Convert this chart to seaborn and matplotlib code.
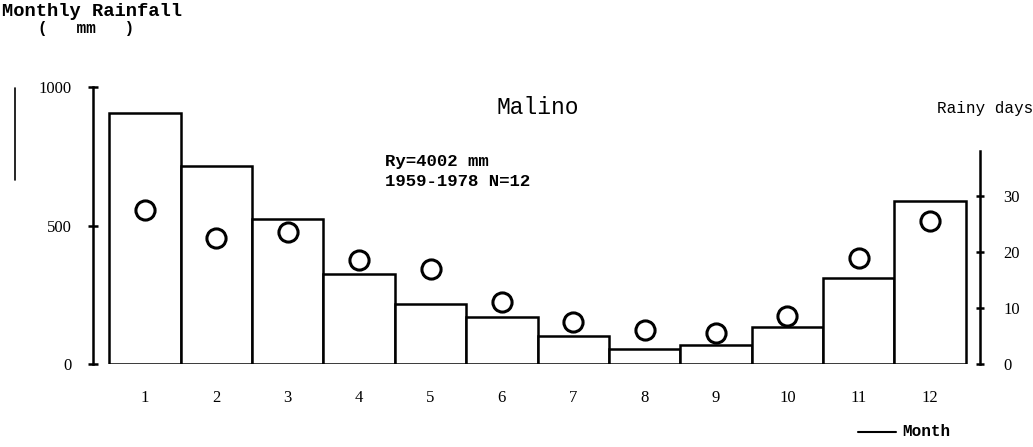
import numpy as np
import pandas as pd
import matplotlib
matplotlib.use("Agg")
import matplotlib.pyplot as plt
from matplotlib.lines import Line2D
import seaborn as sns

# ---- data ----
months = ["1", "2", "3", "4", "5", "6", "7", "8", "9", "10", "11", "12"]
rainfall_mm = [905, 715, 525, 325, 215, 170, 100, 55, 70, 135, 310, 590]
rainy_days = [27.5, 22.5, 23.5, 18.5, 17, 11, 7.5, 6, 5.5, 8.5, 19, 25.5]
left_ticks = [0, 500, 1000]
left_ticklabels = ["0", "500", "1000"]
right_ticks = [0, 10, 20, 30]
right_ticklabels = ["0", "10", "20", "30"]

W, H = 1033, 447
sns.set_theme(style="white")
plt.rcParams["font.family"] = ["Liberation Serif", "DejaVu Serif"]

fig = plt.figure(figsize=(W / 100, H / 100), dpi=100)
fig.patch.set_facecolor("white")

def fx(x):
    return x / W

def fy(y):
    return 1 - y / H

base_y = 364
ax_left, ax_right = 93, 980
top_y = base_y - 277  # 1000 mm
ax = fig.add_axes([fx(ax_left), fy(base_y), (ax_right - ax_left) / W, (base_y - top_y) / H])
ax.set_facecolor("none")

df = pd.DataFrame({"month": months, "rain": rainfall_mm, "days": rainy_days})
sns.barplot(data=df, x="month", y="rain", ax=ax, color="white", edgecolor="black",
            linewidth=1.8, width=1.0, saturation=1)

xl = (-0.73, 11.7)
ax.set_xlim(*xl)
ax.set_ylim(0, 1000)
for s in ["top", "right", "bottom"]:
    ax.spines[s].set_visible(False)
ax.spines["left"].set_color("black")
ax.spines["left"].set_linewidth(1.8)
ax.set_yticks(left_ticks)
ax.set_yticklabels(left_ticklabels)
ax.tick_params(axis="y", direction="inout", length=7, width=1.8, color="black",
               pad=12, labelsize=12, labelcolor="black", left=True)
ax.tick_params(axis="x", length=0, pad=19, labelsize=12, labelcolor="black")
ax.set_xlabel("")
ax.set_ylabel("")
ax.grid(False)

ax2 = ax.twinx()
ax2.set_facecolor("none")
ax2.set_ylim(0, 277 / 5.6)
ax2.set_xlim(*xl)
sns.scatterplot(x=np.arange(len(months)), y=rainy_days, ax=ax2, s=190,
                facecolor="white", edgecolor="black", linewidth=2.2, zorder=5,
                legend=False)
for s in ["top", "left", "bottom"]:
    ax2.spines[s].set_visible(False)
ax2.spines["right"].set_color("black")
ax2.spines["right"].set_linewidth(1.8)
ax2.spines["right"].set_bounds(0, 38)
ax2.set_yticks(right_ticks)
ax2.set_yticklabels(right_ticklabels)
ax2.tick_params(axis="y", direction="inout", length=6, width=1.8, color="black",
                pad=14, labelsize=12, labelcolor="black", right=True)
ax2.set_ylabel("")
ax2.grid(False)

mono = ["Liberation Mono", "DejaVu Sans Mono"]
fig.text(fx(2), fy(11), "Monthly Rainfall", family=mono, fontsize=13.5,
         fontweight="bold", ha="left", va="center", color="black")
fig.text(fx(38), fy(29), "(   mm   )", family=mono, fontsize=11.5,
         fontweight="bold", ha="left", va="center", color="black")
fig.text(fx(538), fy(108), "Malino", family=mono, fontsize=16.5,
         ha="center", va="center", color="black")
fig.text(fx(385), fy(162), "Ry=4002 mm", family=mono, fontsize=12.5,
         fontweight="bold", ha="left", va="center", color="black")
fig.text(fx(385), fy(181), "1959-1978 N=12", family=mono, fontsize=12.5,
         fontweight="bold", ha="left", va="center", color="black")
fig.text(fx(985), fy(108), "Rainy days", family=mono, fontsize=11.5,
         ha="center", va="center", color="black")
fig.add_artist(Line2D([fx(858), fx(896)], [fy(432), fy(432)], color="black", lw=1.5))
fig.text(fx(902), fy(432), "Month", family=mono, fontsize=11.5,
         fontweight="bold", ha="left", va="center", color="black")
fig.add_artist(Line2D([fx(15), fx(15)], [fy(88), fy(180)], color="black", lw=1.2))

fig.savefig("out.png", dpi=100, facecolor="white")
